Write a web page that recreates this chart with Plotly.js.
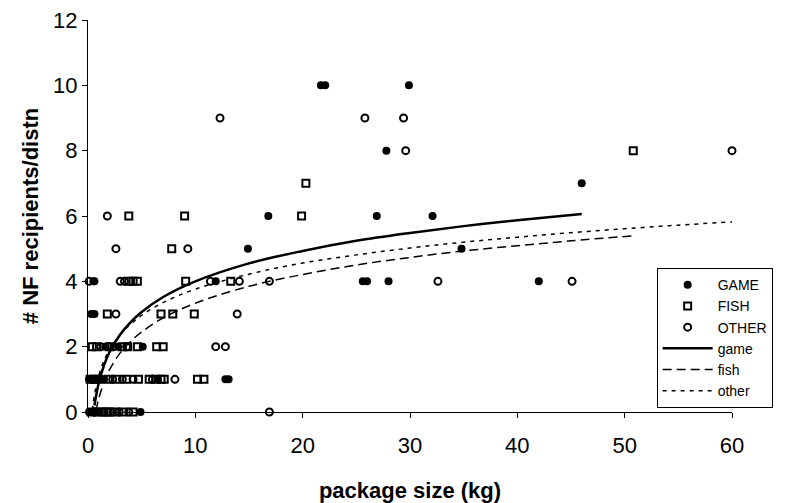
<!DOCTYPE html>
<html>
<head>
<meta charset="utf-8">
<script src="https://cdn.plot.ly/plotly-3.0.1.min.js"></script>
<style>html,body{margin:0;padding:0;background:#fff;}#chart{width:785px;height:503px;}</style>
</head>
<body>
<div id="chart"></div>
<script>
// Scatter data: package size (kg) and # NF recipients per distribution
var gameX = [0.1,0.4,0.7,1.0, 4.9,
             0.1,0.4,0.8,1.2,1.5, 6.5, 12.8,13.1,
             1.6,2.8,5.1,
             0.3,0.6,
             0.5,0.6,11.9,25.6,26.0,28.0,42.0,
             14.9,34.8,
             16.8,26.9,32.1,
             46.0,
             27.8,
             21.7,22.1,29.9];
var gameY = [0,0,0,0, 0,
             1,1,1,1,1, 1, 1,1,
             2,2,2,
             3,3,
             4,4,4,4,4,4,4,
             5,5,
             6,6,6,
             7,
             8,
             10,10,10];

var fishX = [0.3,0.9,1.3,1.7,2.1,2.5,3.3,4.2,
             0.2,0.6,1.0,1.9,2.7,3.6,4.7,5.7,6.3,6.8,7.1,10.2,10.8,
             0.4,0.8,2.0,3.2,3.7,4.6,6.4,7.0,
             1.8,6.8,7.9,9.9,
             3.8,4.2,4.6,9.1,13.3,
             7.8,
             3.8,9.0,19.9,
             20.3,
             50.8];
var fishY = [0,0,0,0,0,0,0,0,
             1,1,1,1,1,1,1,1,1,1,1,1,1,
             2,2,2,2,2,2,2,2,
             3,3,3,3,
             4,4,4,4,4,
             5,
             6,6,6,
             7,
             8];

var otherX = [0.6,1.5,1.9,2.9,3.8,16.9,
              0.3,2.3,3.2,4.2,6.0,8.1,
              1.2,1.9,2.4,3.6,11.9,12.8,
              2.6,13.9,
              0.1,3.0,3.4,11.4,14.1,16.9,32.6,45.1,
              2.6,9.3,
              1.8,
              29.6,60.0,
              12.3,25.8,29.4];
var otherY = [0,0,0,0,0,0,
              1,1,1,1,1,1,
              2,2,2,2,2,2,
              3,3,
              4,4,4,4,4,4,4,4,
              5,5,
              6,
              8,8,
              9,9,9];

// Fitted trend curves
var gameLineX = [0.6,1,1.5,2,3,4,5,7,10,15,20,25,30,35,40,46];
var gameLineY = [0.20,0.89,1.44,1.83,2.37,2.76,3.06,3.52,4.00,4.55,4.93,5.24,5.48,5.69,5.87,6.06];

var fishLineX = [0.75,1,1.5,2,3,4,5,7,10,15,20,25,30,35,40,45,51];
var fishLineY = [0.04,0.41,0.92,1.29,1.81,2.17,2.45,2.88,3.33,3.85,4.21,4.50,4.73,4.93,5.09,5.24,5.40];

var otherLineX = [0.4,0.6,1,1.5,2,3,4,5,7,10,15,20,25,30,35,40,45,50,55,60];
var otherLineY = [0.06,0.52,1.11,1.58,1.91,2.37,2.70,2.96,3.35,3.76,4.22,4.56,4.81,5.02,5.20,5.35,5.49,5.61,5.72,5.82];

var xTicks = [0,10,20,30,40,50,60];
var yTicks = [0,2,4,6,8,10,12];

var FONT = 'Liberation Sans, Arial, sans-serif';

var traces = [
  {x: gameX, y: gameY, type: 'scatter', mode: 'markers', name: 'GAME',
   marker: {symbol: 'circle', size: 8, color: '#000'}, cliponaxis: false},
  {x: fishX, y: fishY, type: 'scatter', mode: 'markers', name: 'FISH',
   marker: {symbol: 'square-open', size: 7, color: '#000', line: {width: 2, color: '#000'}}, cliponaxis: false},
  {x: otherX, y: otherY, type: 'scatter', mode: 'markers', name: 'OTHER',
   marker: {symbol: 'circle-open', size: 7, color: '#000', line: {width: 2, color: '#000'}}, cliponaxis: false},
  {x: gameLineX, y: gameLineY, type: 'scatter', mode: 'lines', name: 'game',
   line: {color: '#000', width: 2.5, shape: 'spline', dash: 'solid'}},
  {x: fishLineX, y: fishLineY, type: 'scatter', mode: 'lines', name: 'fish',
   line: {color: '#000', width: 1.5, shape: 'spline', dash: '9px,5px'}},
  {x: otherLineX, y: otherLineY, type: 'scatter', mode: 'lines', name: 'other',
   line: {color: '#000', width: 1.5, shape: 'spline', dash: '4px,5px'}}
];

var layout = {
  width: 785, height: 503,
  paper_bgcolor: '#fff', plot_bgcolor: '#fff',
  margin: {l: 88, r: 48, t: 20, b: 91},
  font: {family: FONT, color: '#000'},
  showlegend: true,
  xaxis: {
    range: [0, 60], tickvals: xTicks, ticktext: xTicks.map(String),
    showgrid: false, zeroline: false, showline: true, linecolor: '#000', linewidth: 1,
    ticks: 'outside', ticklen: 5, tickcolor: '#000', ticklabelstandoff: 9,
    tickfont: {family: FONT, size: 22, color: '#000'},
    title: {text: 'package size (kg)', font: {family: FONT, size: 22, weight: 'bold', color: '#000'}, standoff: 27},
    automargin: false, fixedrange: true
  },
  yaxis: {
    range: [0, 12], tickvals: yTicks, ticktext: yTicks.map(String),
    showgrid: false, zeroline: false, showline: true, linecolor: '#000', linewidth: 1,
    ticks: 'outside', ticklen: 5, tickcolor: '#000',
    tickfont: {family: FONT, size: 22, color: '#000'},
    title: {text: '# NF recipients/distn', font: {family: FONT, size: 22, weight: 'bold', color: '#000'}, standoff: 8},
    automargin: false, fixedrange: true
  },
  legend: {
    x: 0.883, y: 0.367, xanchor: 'left', yanchor: 'top',
    bgcolor: '#fff', bordercolor: '#000', borderwidth: 1,
    font: {family: FONT, size: 14, color: '#000'},
    itemwidth: 50, tracegroupgap: 0
  }
};

Plotly.newPlot('chart', traces, layout, {displayModeBar: false, staticPlot: true});
</script>
</body>
</html>
